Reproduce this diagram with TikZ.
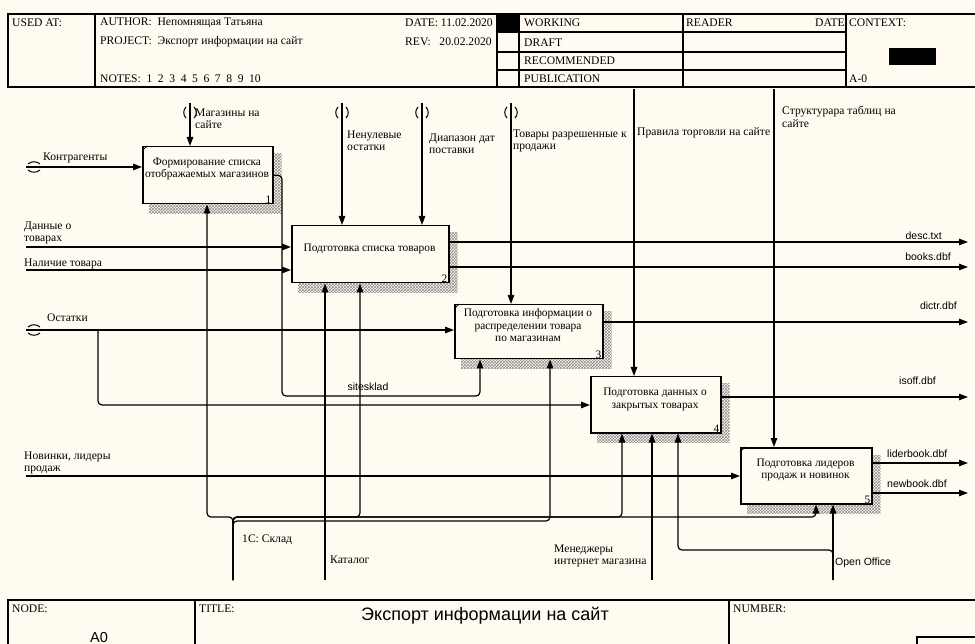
\documentclass[tikz,border=0pt]{standalone}
\usepackage{fontspec}
\setmainfont{Liberation Serif}
\setsansfont{Liberation Sans}
\usetikzlibrary{arrows.meta,patterns,backgrounds}
\definecolor{paper}{RGB}{255,251,240}

% tunnel brackets around the free end of a boundary arrow
\newcommand\tunnelTop[1]{%
  \draw[tun] ([shift={(-4,4)}]#1) .. controls ([shift={(-7,7)}]#1) and ([shift={(-7,12)}]#1) .. ([shift={(-4,15)}]#1);
  \draw[tun] ([shift={(4,4)}]#1) .. controls ([shift={(7,7)}]#1) and ([shift={(7,12)}]#1) .. ([shift={(4,15)}]#1);}
\newcommand\tunnelLeft[1]{%
  \draw[tun] ([shift={(2,-3)}]#1) .. controls ([shift={(5,-6)}]#1) and ([shift={(11,-6)}]#1) .. ([shift={(14,-3)}]#1);
  \draw[tun] ([shift={(2,3)}]#1) .. controls ([shift={(5,6)}]#1) and ([shift={(11,6)}]#1) .. ([shift={(14,3)}]#1);}
\newcommand\nsp{\hspace{5.6pt}}

\begin{document}
\begin{tikzpicture}[x=1pt,y=-1pt,
  lbl/.style={font=\fontsize{11.6}{12.5}\selectfont, inner sep=0pt, align=left},
  blbl/.style={font=\fontsize{11.4}{12.5}\selectfont, inner sep=0pt, align=center},
  slbl/.style={font=\sffamily\fontsize{10.5}{12}\selectfont, inner sep=0pt},
  frame/.style={line width=1.4pt},
  arr/.style={line width=1.2pt, -{Triangle[length=9pt,width=6.5pt]}},
  tun/.style={line width=1pt},
  rc/.style={rounded corners=4pt},
  fbox/.style={draw, line width=1.5pt, fill=paper, anchor=north west, inner sep=0pt},
  shade/.style={pattern=crosshatch, pattern color=black!45},
]
\useasboundingbox (0,0) rectangle (975,644);

% ---------- header ----------
\draw[frame] (8,14) rectangle (980,87);
\foreach \x in {95,497,519,683,846} \draw[frame] (\x,14) -- (\x,87);
\foreach \y in {32,52,70} \draw[frame] (497,\y) -- (846,\y);
\node[lbl,anchor=west] (hUsed) at (12,23) {USED AT:};
\node[lbl,anchor=west] (hAuth) at (100,23) {AUTHOR:\ \ Непомнящая Татьяна};
\node[lbl,anchor=west] (hProj) at (100,42) {PROJECT:\ \ Экспорт информации на сайт};
\node[lbl,anchor=west] (hNotes) at (100,79) {NOTES:\ \ 1\nsp2\nsp3\nsp4\nsp5\nsp6\nsp7\nsp8\nsp9\nsp10};
\node[lbl,anchor=west] (hDate) at (405,23) {DATE: 11.02.2020};
\node[lbl,anchor=west] (hRev) at (405,42) {REV:\ \ \ 20.02.2020};
\fill (497,14) rectangle (519,32);
\node[lbl,anchor=west] (hWork) at (524,23) {WORKING};
\node[lbl,anchor=west] (hDraft) at (524,43) {DRAFT};
\node[lbl,anchor=west] (hRec) at (524,61) {RECOMMENDED};
\node[lbl,anchor=west] (hPub) at (524,79) {PUBLICATION};
\node[lbl,anchor=west] (hRead) at (686,23) {READER};
\node[lbl,anchor=east] (hRDate) at (845,23) {DATE};
\node[lbl,anchor=west] (hCtx) at (849,23) {CONTEXT:};
\fill (889,48) rectangle (936,65);
\node[lbl,anchor=west] (hA0) at (849,79) {A-0};

% ---------- footer ----------
\draw[frame] (8,650) -- (8,600) -- (980,600);
\draw[frame] (195,600) -- (195,650);
\draw[frame] (729,600) -- (729,650);
\draw[frame] (917,650) -- (917,637) -- (980,637);
\node[lbl,anchor=west] (fNode) at (12,609) {NODE:};
\node[font=\sffamily\fontsize{14.5}{16}\selectfont, inner sep=0pt, anchor=base] (fA0) at (99,642.5) {A0};
\node[lbl,anchor=west] (fTitle) at (199,609) {TITLE:};
\node[font=\sffamily\fontsize{18}{20}\selectfont, inner sep=0pt] (fName) at (485,616) {Экспорт информации на сайт};
\node[lbl,anchor=west] (fNum) at (733,609) {NUMBER:};

% ---------- activity boxes ----------
\node[fbox, minimum width=130pt, minimum height=57pt] (b1) at (142,146) {};
\node[fbox, minimum width=157pt, minimum height=57pt] (b2) at (291,225) {};
\node[fbox, minimum width=148pt, minimum height=54pt] (b3) at (454,304) {};
\node[fbox, minimum width=130pt, minimum height=56pt] (b4) at (590,376) {};
\node[fbox, minimum width=131pt, minimum height=56pt] (b5) at (740,447) {};

\begin{scope}[on background layer]
  \fill[paper] (0,0) rectangle (975,644);
  \foreach \b in {b1,b2,b3,b4,b5}
    \fill[shade] ([shift={(7,8)}]\b.north west) rectangle ([shift={(8,9)}]\b.south east);
\end{scope}

% corner ticks
\foreach \b in {b1,b3,b5}
  \draw[line width=0.8pt] ([shift={(0,5)}]\b.north west) -- ([shift={(5,0)}]\b.north west);

\node[blbl] (b1t) at (207,169) {Формирование списка\\отображаемых магазинов};
\node[blbl] (b2t) at (369.5,249) {Подготовка списка товаров};
\node[blbl] (b3t) at (528,325.5) {Подготовка информации о\\распределении товара\\по магазинам};
\node[blbl] (b4t) at (655,399.5) {Подготовка данных о\\закрытых товарах};
\node[blbl] (b5t) at (805.5,470) {Подготовка лидеров\\продаж и новинок};
\foreach \b/\n in {b1/1,b2/2,b3/3,b4/4,b5/5}
  \node[blbl, anchor=south east] (\b n) at ([shift={(-2,-1)}]\b.south east) {\n};

% ---------- boundary points ----------
\coordinate (iKontr) at (26,167);
\coordinate (iDan) at (26,247);
\coordinate (iNal) at (26,270);
\coordinate (iOst) at (26,330);
\coordinate (kOst) at (98,330);
\coordinate (kOst4) at (0,405);
\coordinate (iNov) at (26,476);

\coordinate (cMag) at (190,103);
\coordinate (cNen) at (342,103);
\coordinate (cDia) at (422,103);
\coordinate (cTov) at (511,103);
\coordinate (cPra) at (634,89);
\coordinate (cStr) at (774,89);

\coordinate (oDesc) at (968,242);
\coordinate (oBooks) at (968,267);
\coordinate (oDictr) at (968,322);
\coordinate (oIsoff) at (968,397);
\coordinate (oLider) at (968,463);
\coordinate (oNew) at (968,493);

\coordinate (m1C) at (233,580);
\coordinate (mKat) at (325,580);
\coordinate (mMen) at (652,580);
\coordinate (mOO) at (833,580);

\coordinate (k1) at (207,517);
\coordinate (k2) at (360,517);
\coordinate (k3) at (550,521);
\coordinate (k4) at (622,517);
\coordinate (k5) at (816,517);
\coordinate (k6) at (678,550);
\coordinate (sk) at (282,396);
\coordinate (sk3) at (480,0);

% ---------- inputs ----------
\draw[arr] (iKontr) -- (iKontr -| b1.west);
\draw[arr] (iDan) -- (iDan -| b2.west);
\draw[arr] (iNal) -- (iNal -| b2.west);
\draw[arr] (iOst) -- (iOst -| b3.west);
\draw[arr,rc] (kOst) |- (kOst4 -| b4.west);
\draw[arr] (iNov) -- (iNov -| b5.west);
\tunnelLeft{iKontr}
\tunnelLeft{iOst}

% ---------- controls ----------
\draw[arr] (cMag) -- (cMag |- b1.north);
\draw[arr] (cNen) -- (cNen |- b2.north);
\draw[arr] (cDia) -- (cDia |- b2.north);
\draw[arr] (cTov) -- (cTov |- b3.north);
\draw[arr] (cPra) -- (cPra |- b4.north);
\draw[arr] (cStr) -- (cStr |- b5.north);
\tunnelTop{cMag}
\tunnelTop{cNen}
\tunnelTop{cDia}
\tunnelTop{cTov}

% ---------- outputs ----------
\draw[arr] (oDesc -| b2.east) -- (oDesc);
\draw[arr] (oBooks -| b2.east) -- (oBooks);
\draw[arr] (oDictr -| b3.east) -- (oDictr);
\draw[arr] (oIsoff -| b4.east) -- (oIsoff);
\draw[arr] (oLider -| b5.east) -- (oLider);
\draw[arr] (oNew -| b5.east) -- (oNew);
\draw[arr,rc] (b1.east) -| (sk) -| (sk3 |- b3.south);

% ---------- mechanisms ----------
\draw[arr,rc] (m1C) |- (k1) -- (k1 |- b1.south);
\draw[arr,rc] (m1C) |- (k2) -- (k2 |- b2.south);
\draw[arr,rc] (m1C) |- (k3) -- (k3 |- b3.south);
\draw[arr,rc] (m1C) |- (k4) -- (k4 |- b4.south);
\draw[arr,rc] (m1C) |- (k5) -- (k5 |- b5.south);
\draw[arr] (mKat) -- (mKat |- b2.south);
\draw[arr] (mMen) -- (mMen |- b4.south);
\draw[arr] (mOO) -- (mOO |- b5.south);
\draw[arr,rc] (mOO) |- (k6) -- (k6 |- b4.south);

% ---------- arrow labels ----------
\node[lbl,anchor=west] (lKontr) at (43,158) {Контрагенты};
\node[lbl,anchor=west] (lDan) at (24,233) {Данные о\\товарах};
\node[lbl,anchor=west] (lNal) at (24,264) {Наличие товара};
\node[lbl,anchor=west] (lOst) at (47,318) {Остатки};
\node[lbl,anchor=west] (lNov) at (24,463) {Новинки, лидеры\\продаж};
\node[lbl,anchor=west] (lMag) at (195,119) {Магазины на\\сайте};
\node[lbl,anchor=west] (lNen) at (347,141) {Ненулевые\\остатки};
\node[lbl,anchor=west] (lDia) at (429,144) {Диапазон дат\\поставки};
\node[lbl,anchor=west] (lTov) at (513,141) {Товары разрешенные к\\продажи};
\node[lbl,anchor=west] (lPra) at (637,133) {Правила торговли на сайте};
\node[lbl,anchor=west] (lStr) at (782,117) {Структурара таблиц на\\сайте};
\node[slbl,anchor=east] (lDesc) at (942,236) {desc.txt};
\node[slbl,anchor=east] (lBooks) at (951,257) {books.dbf};
\node[slbl,anchor=east] (lDictr) at (957,306) {dictr.dbf};
\node[slbl,anchor=east] (lIsoff) at (936,381) {isoff.dbf};
\node[slbl,anchor=west] (lLider) at (887,454) {liderbook.dbf};
\node[slbl,anchor=west] (lNew) at (887,484) {newbook.dbf};
\node[slbl] (lSite) at (368,387) {sitesklad};
\node[lbl,anchor=west] (l1C) at (242,540) {1С: Склад};
\node[lbl,anchor=west] (lKat) at (330,560) {Каталог};
\node[lbl,anchor=west] (lMen) at (554,556) {Менеджеры\\интернет магазина};
\node[slbl,anchor=west] (lOO) at (835,563) {Open Office};
\end{tikzpicture}
\end{document}
